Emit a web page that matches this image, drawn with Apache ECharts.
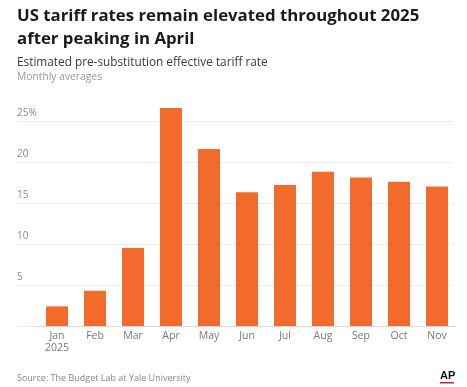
<!DOCTYPE html>
<html><head><meta charset="utf-8">
<script src="https://cdn.jsdelivr.net/npm/echarts@6/dist/echarts.min.js"></script>
<style>html,body{margin:0;padding:0;background:#fff}#c{width:467px;height:387px}</style>
</head><body><div id="c"></div>
<script>
const months = ['Jan\n2025','Feb','Mar','Apr','May','Jun','Jul','Aug','Sep','Oct','Nov'];
const tariffRate = [2.4, 4.3, 9.5, 26.6, 21.6, 16.3, 17.2, 18.8, 18.1, 17.6, 17.0];
const yTicks = [0, 5, 10, 15, 20, 25];

const chart = echarts.init(document.getElementById('c'));
const font = '"Open Sans", sans-serif';
chart.setOption({
  animation: false,
  title: [
    {text: 'US tariff rates remain elevated throughout 2025\nafter peaking in April', left: 17, top: 5, padding: 0,
     textStyle: {fontFamily: font, fontWeight: 'bold', fontSize: 16.8, lineHeight: 22.5, color: '#1a1a1a'}},
    {text: 'Estimated pre-substitution effective tariff rate', left: 17, top: 57, padding: 0,
     textStyle: {fontFamily: font, fontWeight: 500, fontSize: 11.8, color: '#3a3a3a'}},
    {text: 'Monthly averages', left: 17, top: 72, padding: 0,
     textStyle: {fontFamily: font, fontWeight: 'normal', fontSize: 10.3, color: '#999'}},
    {text: 'Source: The Budget Lab at Yale University', left: 17, top: 373.5, padding: 0,
     textStyle: {fontFamily: font, fontWeight: 'normal', fontSize: 9, color: '#888'}},
    {text: 'AP', left: 440, top: 370, padding: 0,
     textStyle: {fontFamily: '"Liberation Sans", sans-serif', fontWeight: 'bold', fontSize: 11, color: '#111'}}
  ],
  graphic: [{type: 'rect', shape: {x: 440, y: 382, width: 14, height: 1.5}, style: {fill: '#d0202e'}}],
  grid: [
    {left: 17, right: 14, top: 121, height: 205},
    {left: 38, right: 11, top: 121, height: 205}
  ],
  xAxis: [
    {gridIndex: 0, type: 'value', min: 0, max: 1, show: true,
     axisLine: {show: false}, axisTick: {show: false}, axisLabel: {show: false}, splitLine: {show: false}},
    {gridIndex: 1, type: 'category', data: months,
     axisLine: {show: true, lineStyle: {color: '#d8d8d8'}}, axisTick: {show: false},
     axisLabel: {fontFamily: font, fontSize: 10.5, color: '#777', margin: 4, lineHeight: 12}}
  ],
  yAxis: [
    {gridIndex: 0, type: 'value', min: 0, max: 25, interval: 5,
     axisLine: {show: false}, axisTick: {show: false},
     splitLine: {lineStyle: {color: '#ececec', width: 1}},
     axisLabel: {inside: true, margin: 0, verticalAlign: 'bottom', padding: [0, 0, 3, 0],
       fontFamily: font, fontSize: 10, color: '#888',
       formatter: v => v === 0 ? '' : (v === 25 ? v + '%' : String(v))}},
    {gridIndex: 1, type: 'value', min: 0, max: 25, interval: 5, show: false, splitLine: {show: false}}
  ],
  series: [{
    type: 'bar', xAxisIndex: 1, yAxisIndex: 1, data: tariffRate, barWidth: 22, clip: false,
    itemStyle: {color: '#F26B2C'}
  }]
});
</script></body></html>
